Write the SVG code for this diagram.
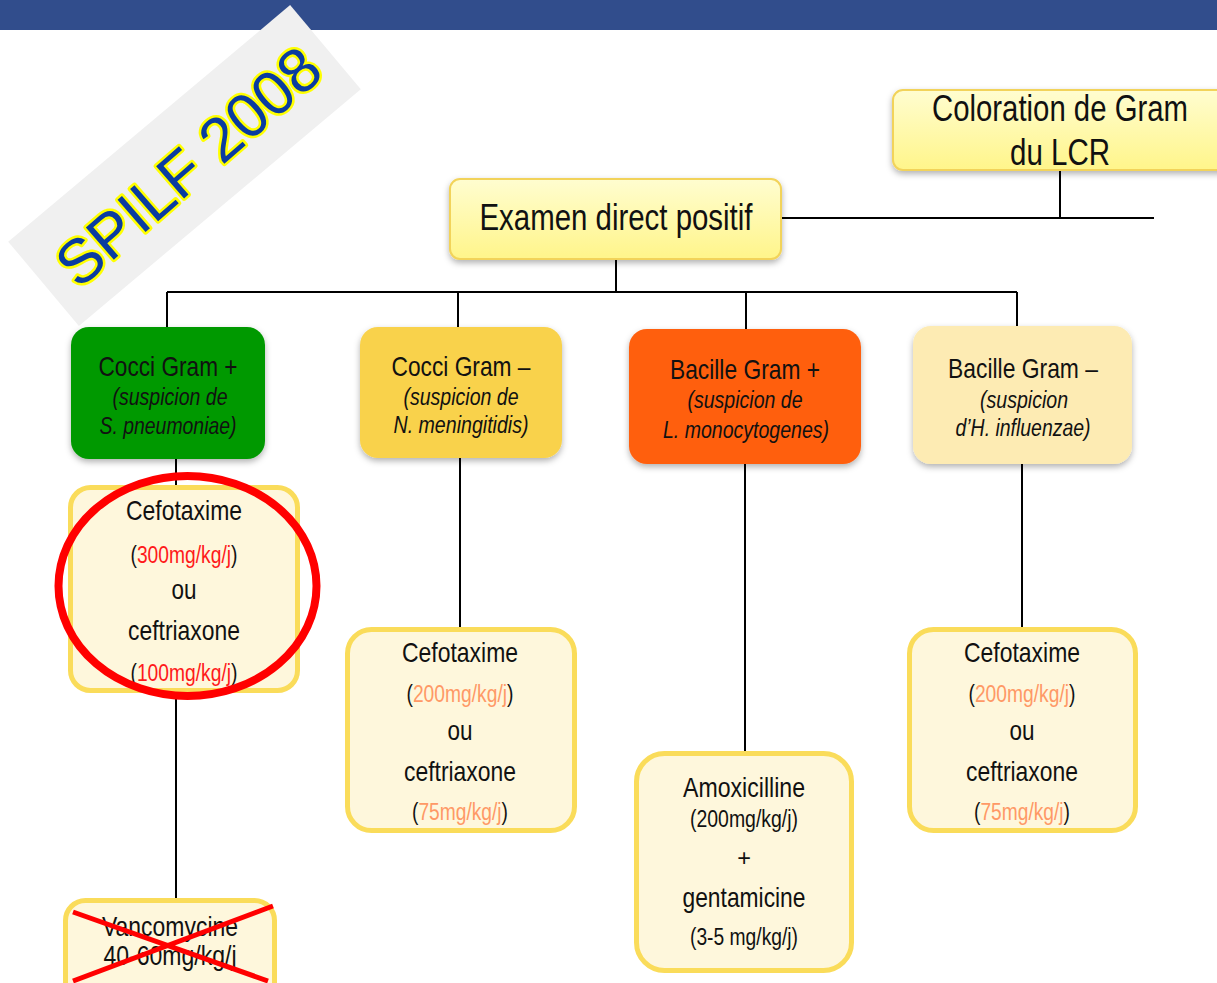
<svg xmlns="http://www.w3.org/2000/svg" width="1217" height="983" viewBox="0 0 1217 983">
  <defs>
    <linearGradient id="gradTop" x1="0" y1="0" x2="0" y2="1">
      <stop offset="0" stop-color="#FFFDD0"/>
      <stop offset="1" stop-color="#FFF58A"/>
    </linearGradient>
    <filter id="shadow" x="-10%" y="-10%" width="120%" height="130%">
      <feDropShadow dx="0" dy="3" stdDeviation="3" flood-color="#000" flood-opacity="0.3"/>
    </filter>
    <style>
      text { font-family: "Liberation Sans", Arial, sans-serif; fill: #111; text-anchor: middle; }
      .big { font-size: 36px; }
      .head { font-size: 27.5px; }
      .sub { font-size: 24px; font-style: italic; }
      .drug { font-size: 28px; }
      .dose { font-size: 23.5px; }
      .red { fill: #FF1A1A; }
      .salmon { fill: #FF9966; }
      .topbox { fill: url(#gradTop); stroke: #F2D35A; stroke-width: 2; filter: url(#shadow); }
      .catbox { filter: url(#shadow); }
      .treat { fill: #FEF7DC; stroke: #FADC5A; stroke-width: 5; }
      .link { fill: none; stroke: #000; stroke-width: 2; }
      .strike { fill: none; stroke: #FF0000; }
    </style>
  </defs>

  <!-- title band -->
  <rect x="0" y="0" width="1217" height="30" fill="#314D8C"/>

  <!-- stamp -->
  <g id="stamp">
    <rect x="-184" y="-55" width="368" height="110" fill="#F0F0F0" transform="translate(184.5,165.5) rotate(-40)"/>
    <text transform="translate(188,166) rotate(-41)" y="22" style="font-family:'Liberation Sans',Arial,sans-serif;font-size:62px;fill:#0A3CA0;stroke:#FFFF00;stroke-width:5;paint-order:stroke;stroke-linejoin:round">SPILF 2008</text>
  </g>

  <!-- connectors -->
  <g id="connectors" class="link">
    <path d="M1060,170 V218 M781,218 H1154"/>
    <path d="M616,259 V292 M167,292 H1017 M167,292 V327 M458,292 V327 M746,292 V329 M1017,292 V326"/>
    <path d="M176,459 V898"/>
    <path d="M460,458 V628"/>
    <path d="M745,464 V752"/>
    <path d="M1022,464 V628"/>
  </g>

  <g id="coloration">
    <rect class="topbox" x="893" y="90" width="340" height="80" rx="10"/>
    <text class="big" x="1060" y="121" textLength="256" lengthAdjust="spacingAndGlyphs">Coloration de Gram</text>
    <text class="big" x="1060" y="165" textLength="100" lengthAdjust="spacingAndGlyphs">du LCR</text>
  </g>

  <g id="examen">
    <rect class="topbox" x="450" y="179" width="331" height="80" rx="10"/>
    <text class="big" x="616" y="230" textLength="273" lengthAdjust="spacingAndGlyphs">Examen direct positif</text>
  </g>

  <g id="cocci-pos">
    <rect class="catbox" x="71" y="327" width="194" height="132" rx="18" fill="#009900"/>
    <text class="head" x="168" y="376" textLength="139" lengthAdjust="spacingAndGlyphs">Cocci Gram +</text>
    <text class="sub" x="170" y="405" textLength="115" lengthAdjust="spacingAndGlyphs">(suspicion de</text>
    <text class="sub" x="168" y="434" textLength="137" lengthAdjust="spacingAndGlyphs">S. pneumoniae)</text>
  </g>

  <g id="cocci-neg">
    <rect class="catbox" x="360" y="327" width="202" height="131" rx="18" fill="#F9D24C"/>
    <text class="head" x="461" y="376" textLength="139" lengthAdjust="spacingAndGlyphs">Cocci Gram –</text>
    <text class="sub" x="461" y="405" textLength="115" lengthAdjust="spacingAndGlyphs">(suspicion de</text>
    <text class="sub" x="461" y="433" textLength="135" lengthAdjust="spacingAndGlyphs">N. meningitidis)</text>
  </g>

  <g id="bacille-pos">
    <rect class="catbox" x="629" y="329" width="232" height="135" rx="18" fill="#FF5F0F"/>
    <text class="head" x="745" y="379" textLength="150" lengthAdjust="spacingAndGlyphs">Bacille Gram +</text>
    <text class="sub" x="745" y="408" textLength="115" lengthAdjust="spacingAndGlyphs">(suspicion de</text>
    <text class="sub" x="746" y="438" textLength="166" lengthAdjust="spacingAndGlyphs">L. monocytogenes)</text>
  </g>

  <g id="bacille-neg">
    <rect class="catbox" x="913" y="326" width="219" height="138" rx="18" fill="#FDEBB3"/>
    <text class="head" x="1023" y="378" textLength="150" lengthAdjust="spacingAndGlyphs">Bacille Gram –</text>
    <text class="sub" x="1024" y="408" textLength="88" lengthAdjust="spacingAndGlyphs">(suspicion</text>
    <text class="sub" x="1023" y="436" textLength="135" lengthAdjust="spacingAndGlyphs">d’H. influenzae)</text>
  </g>

  <g id="treat-cocci-pos">
    <rect class="treat" x="70.5" y="487.5" width="227" height="203" rx="20"/>
    <text class="drug" x="184" y="520" textLength="116" lengthAdjust="spacingAndGlyphs">Cefotaxime</text>
    <text class="dose" x="184" y="563" textLength="107" lengthAdjust="spacingAndGlyphs">(<tspan class="red">300mg/kg/j</tspan>)</text>
    <text class="drug" x="184" y="599" textLength="25" lengthAdjust="spacingAndGlyphs">ou</text>
    <text class="drug" x="184" y="640" textLength="112" lengthAdjust="spacingAndGlyphs">ceftriaxone</text>
    <text class="dose" x="184" y="681" textLength="107" lengthAdjust="spacingAndGlyphs">(<tspan class="red">100mg/kg/j</tspan>)</text>
    <ellipse class="strike" cx="187.5" cy="586" rx="129" ry="110" stroke-width="8"/>
  </g>

  <g id="treat-cocci-neg">
    <rect class="treat" x="347.5" y="629.5" width="227" height="201" rx="24"/>
    <text class="drug" x="460" y="662" textLength="116" lengthAdjust="spacingAndGlyphs">Cefotaxime</text>
    <text class="dose" x="460" y="702" textLength="107" lengthAdjust="spacingAndGlyphs">(<tspan class="salmon">200mg/kg/j</tspan>)</text>
    <text class="drug" x="460" y="740" textLength="25" lengthAdjust="spacingAndGlyphs">ou</text>
    <text class="drug" x="460" y="781" textLength="112" lengthAdjust="spacingAndGlyphs">ceftriaxone</text>
    <text class="dose" x="460" y="820" textLength="96" lengthAdjust="spacingAndGlyphs">(<tspan class="salmon">75mg/kg/j</tspan>)</text>
  </g>

  <g id="treat-bacille-pos">
    <rect class="treat" x="636.5" y="753.5" width="215" height="217" rx="28"/>
    <text class="drug" x="744" y="797" textLength="122" lengthAdjust="spacingAndGlyphs">Amoxicilline</text>
    <text class="dose" x="744" y="827" textLength="108" lengthAdjust="spacingAndGlyphs">(200mg/kg/j)</text>
    <text class="dose" x="744" y="866">+</text>
    <text class="drug" x="744" y="907" textLength="123" lengthAdjust="spacingAndGlyphs">gentamicine</text>
    <text class="dose" x="744" y="945" textLength="108" lengthAdjust="spacingAndGlyphs">(3-5 mg/kg/j)</text>
  </g>

  <g id="treat-bacille-neg">
    <rect class="treat" x="909.5" y="629.5" width="226" height="201" rx="24"/>
    <text class="drug" x="1022" y="662" textLength="116" lengthAdjust="spacingAndGlyphs">Cefotaxime</text>
    <text class="dose" x="1022" y="702" textLength="107" lengthAdjust="spacingAndGlyphs">(<tspan class="salmon">200mg/kg/j</tspan>)</text>
    <text class="drug" x="1022" y="740" textLength="25" lengthAdjust="spacingAndGlyphs">ou</text>
    <text class="drug" x="1022" y="781" textLength="112" lengthAdjust="spacingAndGlyphs">ceftriaxone</text>
    <text class="dose" x="1022" y="820" textLength="96" lengthAdjust="spacingAndGlyphs">(<tspan class="salmon">75mg/kg/j</tspan>)</text>
  </g>

  <g id="vancomycine">
    <rect class="treat" x="65.5" y="900.5" width="209" height="110" rx="20"/>
    <text class="drug" x="170" y="936" textLength="136" lengthAdjust="spacingAndGlyphs">Vancomycine</text>
    <text class="drug" x="170" y="965" textLength="133" lengthAdjust="spacingAndGlyphs">40-60mg/kg/j</text>
    <path class="strike" stroke-width="5" d="M73,912 L268,981 M273,906 L73,981"/>
  </g>
</svg>
